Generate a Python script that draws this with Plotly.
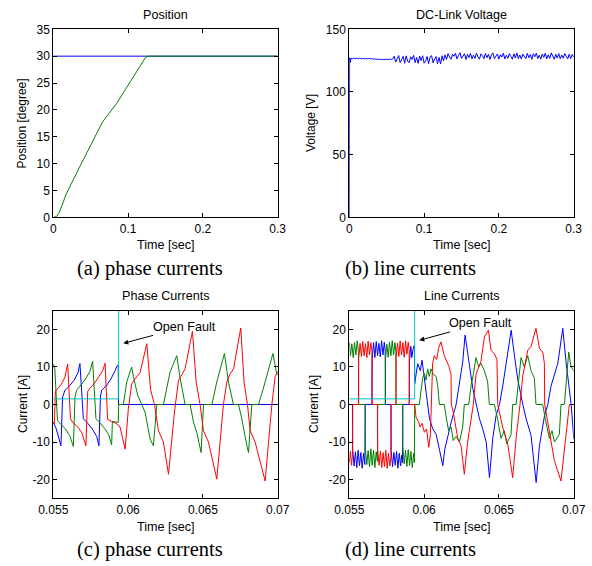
import numpy as np
import plotly.graph_objects as go

# ---------------- data ----------------
# Position response [degree]
pos_ref_t = [0.0, 0.3]
pos_ref_v = [30.0, 30.0]
pos_t = [0.0, 0.004, 0.008, 0.0178, 0.040, 0.0624, 0.066, 0.0847, 0.107, 0.118, 0.1235, 0.127, 0.3]
pos_v = [0.0, 0.1, 0.9, 4.5, 10.7, 16.9, 17.8, 21.2, 26.2, 28.7, 29.8, 30.0, 30.0]

# DC-link voltage [V]: start-up, then samples every ~2 ms up to 0.3 s
dc_start_t = [0.0, 0.0004, 0.0012]
dc_start_v = [0.0, 127.4, 123.6]
dc_v = [
    126.9, 126.3, 127.1, 126.5, 126.9, 126.4, 127.0, 126.5, 126.8, 126.3,
    126.9, 126.4, 126.8, 126.2, 126.7, 126.1, 126.5, 125.9, 126.3, 125.8,
    126.2, 125.7, 126.1, 125.8, 126.2, 125.7, 126.3, 125.9, 126.4,
    128.6, 123.9, 127.2, 129.1, 123.5, 125.8, 128.4, 122.9, 128.8, 124.6,
    123.2, 128.1, 126.0, 129.2, 123.4, 127.5, 122.8, 128.6, 125.1, 128.9,
    123.0, 124.8, 128.3, 122.6, 127.9, 129.0, 123.3, 126.4, 128.2, 122.4,
    127.6, 122.3, 128.9, 124.8, 129.6, 126.0, 130.6, 127.9, 126.1, 130.2,
    128.4, 130.9, 126.3, 129.1, 131.3, 126.7, 128.2, 130.5, 125.9, 130.0,
    127.5, 130.8, 126.4, 129.4, 126.8, 131.0, 128.0, 126.2, 130.4, 129.0,
    126.6, 130.7, 127.3, 130.1, 126.0, 129.6, 131.2, 126.5, 128.6, 130.3,
    126.2, 129.8, 127.8, 130.9, 126.4, 129.2, 126.9, 130.6, 128.3, 126.1,
    130.4, 127.1, 131.1, 126.6, 129.5, 126.3, 130.2, 128.7, 126.5, 130.8,
    127.4, 129.9, 126.0, 130.5, 128.1, 131.0, 126.7, 129.3, 126.2, 130.3,
    127.6, 130.9, 126.4, 129.7, 126.8, 131.2, 128.2, 126.1, 130.1, 127.0,
    130.6, 126.5, 129.4, 126.9, 130.7, 128.5, 126.3, 130.2, 126.6, 129.9,
    127.8,
]

# Phase currents [A] (time [s], current)
ph_red = [
    (0.05500, -4.7), (0.05507, -5.2), (0.05514, 3.5), (0.05530, 4.2), (0.05555, 5.5),
    (0.05578, 7.3), (0.05596, 10.8), (0.05615, -3.8), (0.05632, -4.9), (0.05660, -5.8),
    (0.05690, -7.5), (0.05718, -11.0), (0.05730, 3.5), (0.05745, 4.3), (0.05775, 5.6),
    (0.05805, 7.5), (0.05830, 9.0), (0.05846, 11.0), (0.05863, -4.0), (0.05890, -4.5),
    (0.05920, -5.0), (0.05946, -6.0), (0.05980, -11.9), (0.06002, -1.0), (0.06024, 5.5),
    (0.06050, 7.0), (0.06080, 8.5), (0.06125, 16.2), (0.06150, 4.0), (0.06176, 0.0),
    (0.06203, -7.0), (0.06236, -10.0), (0.06270, -18.6), (0.06310, -2.0), (0.06337, 6.5),
    (0.06360, 8.0), (0.06381, 9.5), (0.06430, 19.5), (0.06455, 6.0), (0.06481, 0.0),
    (0.06504, -7.0), (0.06537, -10.0), (0.06593, -19.9), (0.06637, 0.0), (0.06660, 6.0),
    (0.06680, 8.0), (0.06705, 9.5), (0.06753, 20.4), (0.06775, 6.0), (0.06798, 0.0),
    (0.06816, -7.0), (0.06849, -10.0), (0.06916, -20.4), (0.06961, 0.0), (0.06983, 7.5),
    (0.07012, 9.5),
]
ph_blue = [
    (0.05500, -4.7), (0.05520, -6.5), (0.05551, -11.0), (0.05562, 2.0), (0.05578, 3.8),
    (0.05605, 4.8), (0.05640, 6.5), (0.05665, 8.5), (0.05678, 10.9), (0.05701, -3.8),
    (0.05730, -5.0), (0.05760, -6.5), (0.05790, -8.5), (0.05805, -11.0), (0.05815, 2.0),
    (0.05823, 3.8), (0.05855, 5.0), (0.05885, 6.8), (0.05910, 8.8), (0.05928, 10.4),
    (0.05934, 10.4), (0.05936, 0.0), (0.07010, 0.0),
]
ph_green = [
    (0.05500, 10.8), (0.05510, 9.5), (0.05528, -4.3), (0.05550, -5.2), (0.05580, -6.5),
    (0.05610, -8.3), (0.05634, -11.2), (0.05645, 2.0), (0.05656, 3.8), (0.05685, 5.2),
    (0.05715, 6.8), (0.05745, 8.8), (0.05763, 11.5), (0.05785, -3.8), (0.05815, -5.0),
    (0.05845, -6.5), (0.05870, -8.0), (0.05890, -10.8), (0.05895, -4.5), (0.05934, -4.8),
    (0.05937, 0.0), (0.05968, 0.0), (0.05991, 6.0), (0.06013, 8.7), (0.06024, 10.0),
    (0.06035, 7.5), (0.06047, 5.5), (0.06064, 2.5), (0.06091, 0.0), (0.06113, -2.0),
    (0.06147, -9.2), (0.06169, -11.0), (0.06192, 0.0), (0.06236, 0.0), (0.06281, 8.7),
    (0.06325, 13.0), (0.06348, 7.0), (0.06381, 0.0), (0.06415, 0.0), (0.06437, -4.7),
    (0.06459, -7.5), (0.06488, -12.8), (0.06504, 0.0), (0.06560, 0.0), (0.06593, 6.0),
    (0.06644, 13.6), (0.06671, 6.0), (0.06704, 0.0), (0.06738, 0.0), (0.06760, -3.8),
    (0.06794, -11.0), (0.06805, -12.8), (0.06827, 0.0), (0.06872, 0.0), (0.06916, 6.0),
    (0.06968, 13.6), (0.06994, 8.0), (0.07010, 8.0),
]

# Line currents [A] (time [s], current)
ln_blue = [
    (0.05500, 0.0), (0.05521, 0.0), (0.05523, -12.0), (0.05532, -16.4), (0.05541, -12.6),
    (0.05550, -16.8), (0.05559, -12.2), (0.05568, -16.3), (0.05577, -12.8), (0.05586, -17.0),
    (0.05595, -13.0), (0.05604, -16.0), (0.05606, 0.0), (0.05651, 0.0), (0.05653, 12.0),
    (0.05662, 16.5), (0.05671, 12.5), (0.05680, 16.8), (0.05689, 13.0), (0.05698, 16.3),
    (0.05707, 12.7), (0.05716, 17.0), (0.05725, 13.2), (0.05734, 16.6), (0.05740, 14.2),
    (0.05742, 0.0), (0.05778, 0.0), (0.05780, -12.2), (0.05789, -16.6), (0.05798, -12.8),
    (0.05807, -16.2), (0.05816, -12.5), (0.05825, -17.0), (0.05834, -13.0), (0.05843, -16.4),
    (0.05850, -13.5), (0.05856, -15.5), (0.05858, 0.0), (0.05900, 0.0), (0.05902, 11.5),
    (0.05911, 15.5), (0.05918, 12.5), (0.05927, 15.0), (0.05935, 15.8), (0.05937, 5.5),
    (0.05957, 10.9), (0.05975, 9.0), (0.05986, 11.8), (0.05997, 8.5), (0.06013, 3.3),
    (0.06028, 0.0), (0.06036, -3.8), (0.06058, -6.5), (0.06080, -7.9), (0.06102, -11.9),
    (0.06125, -16.3), (0.06138, -12.0), (0.06158, -8.5), (0.06181, -4.7), (0.06214, 0.0),
    (0.06236, 6.0), (0.06258, 11.3), (0.06274, 18.5), (0.06292, 13.0), (0.06303, 10.5),
    (0.06326, 4.2), (0.06348, 0.0), (0.06370, -3.8), (0.06392, -6.5), (0.06415, -10.0),
    (0.06437, -19.5), (0.06459, -9.0), (0.06481, -3.0), (0.06504, 0.0), (0.06526, 5.0),
    (0.06548, 10.5), (0.06582, 19.8), (0.06604, 13.0), (0.06626, 6.7), (0.06660, 0.0),
    (0.06682, -3.8), (0.06715, -8.3), (0.06749, -20.8), (0.06771, -11.0), (0.06805, -3.0),
    (0.06827, 0.0), (0.06849, 5.0), (0.06894, 11.0), (0.06927, 20.3), (0.06949, 11.3),
    (0.06983, 0.0), (0.07001, -9.2), (0.07010, -9.5),
]
ln_green = [
    (0.05500, 16.5), (0.05508, 13.0), (0.05517, 16.2), (0.05526, 12.5), (0.05535, 16.6),
    (0.05544, 13.2), (0.05553, 17.0), (0.05561, 14.0), (0.05563, 0.0), (0.05606, 0.0),
    (0.05608, -12.0), (0.05617, -16.0), (0.05626, -12.3), (0.05635, -16.6), (0.05644, -11.8),
    (0.05653, -16.2), (0.05662, -12.2), (0.05671, -16.8), (0.05680, -12.6), (0.05688, -15.2),
    (0.05690, 0.0), (0.05740, 0.0), (0.05742, 12.0), (0.05751, 16.1), (0.05760, 12.6),
    (0.05769, 16.6), (0.05778, 13.0), (0.05787, 17.0), (0.05796, 13.2), (0.05805, 16.5),
    (0.05811, 14.2), (0.05813, 0.0), (0.05856, 0.0), (0.05858, -11.5), (0.05867, -15.8),
    (0.05876, -12.2), (0.05885, -16.5), (0.05894, -12.0), (0.05903, -16.2), (0.05912, -12.5),
    (0.05921, -16.8), (0.05930, -13.0), (0.05935, -15.5), (0.05937, 0.0), (0.05968, 0.0),
    (0.05979, 3.8), (0.05990, 7.0), (0.06002, 8.2), (0.06013, 6.5), (0.06024, 9.5),
    (0.06035, 7.5), (0.06046, 9.5), (0.06062, 8.0), (0.06080, 7.5), (0.06091, 5.0),
    (0.06102, 0.0), (0.06135, 0.0), (0.06146, -3.0), (0.06164, -7.0), (0.06180, -6.0),
    (0.06195, -9.6), (0.06213, -8.5), (0.06236, -10.0), (0.06258, -6.0), (0.06269, 0.0),
    (0.06298, 0.0), (0.06314, 5.0), (0.06329, 8.0), (0.06347, 12.5), (0.06365, 10.0),
    (0.06380, 11.0), (0.06403, 9.0), (0.06425, 6.0), (0.06436, 0.0), (0.06470, 0.0),
    (0.06492, -4.0), (0.06514, -9.0), (0.06536, -7.0), (0.06552, -10.5), (0.06581, -8.0),
    (0.06592, 0.0), (0.06615, 0.0), (0.06632, 6.0), (0.06648, 12.5), (0.06670, 10.0),
    (0.06693, 13.0), (0.06715, 9.0), (0.06737, 7.0), (0.06748, 0.0), (0.06793, 0.0),
    (0.06811, -4.0), (0.06837, -9.0), (0.06855, -7.0), (0.06871, -10.0), (0.06904, -8.0),
    (0.06915, 0.0), (0.06938, 0.0), (0.06953, 7.0), (0.06967, 14.0), (0.06982, 10.0),
    (0.07010, 8.5),
]
ln_red = [
    (0.05500, -15.5), (0.05507, -12.5), (0.05515, -16.2), (0.05521, -13.5), (0.05523, 0.0),
    (0.05561, 0.0), (0.05563, 12.2), (0.05572, 16.3), (0.05581, 12.8), (0.05590, 16.8),
    (0.05599, 13.0), (0.05608, 16.2), (0.05617, 12.5), (0.05626, 16.9), (0.05635, 13.2),
    (0.05644, 16.5), (0.05651, 14.5), (0.05653, 0.0), (0.05688, 0.0), (0.05690, -12.0),
    (0.05699, -16.2), (0.05708, -12.4), (0.05717, -16.8), (0.05726, -12.8), (0.05735, -16.5),
    (0.05744, -12.2), (0.05753, -17.0), (0.05762, -13.0), (0.05771, -16.4), (0.05778, -14.0),
    (0.05780, 0.0), (0.05811, 0.0), (0.05813, 12.5), (0.05822, 16.4), (0.05831, 12.8),
    (0.05840, 16.9), (0.05849, 13.2), (0.05858, 16.5), (0.05867, 12.6), (0.05876, 17.0),
    (0.05885, 13.4), (0.05894, 16.6), (0.05900, 14.5), (0.05902, 0.0), (0.05937, 0.0),
    (0.05946, -3.4), (0.05964, -4.7), (0.05973, -6.0), (0.05986, -5.0), (0.06002, -7.4),
    (0.06017, -6.5), (0.06031, -11.4), (0.06042, -8.0), (0.06046, -2.0), (0.06057, 11.0),
    (0.06068, 13.0), (0.06084, 12.0), (0.06097, 15.0), (0.06113, 16.7), (0.06135, 13.0),
    (0.06151, 11.5), (0.06164, 10.4), (0.06180, 8.0), (0.06182, 0.0), (0.06195, -2.0),
    (0.06213, -6.5), (0.06224, -8.8), (0.06247, -11.0), (0.06269, -18.6), (0.06291, -10.0),
    (0.06314, -4.0), (0.06329, 0.0), (0.06347, 8.0), (0.06380, 11.5), (0.06403, 18.0),
    (0.06430, 19.8), (0.06447, 14.5), (0.06470, 13.5), (0.06487, 12.0), (0.06492, 0.0),
    (0.06525, -6.0), (0.06559, -10.5), (0.06592, -19.5), (0.06615, -9.0), (0.06641, 0.0),
    (0.06659, 7.5), (0.06693, 14.5), (0.06715, 15.5), (0.06748, 20.3), (0.06771, 15.0),
    (0.06793, 14.0), (0.06804, 11.0), (0.06806, 0.0), (0.06837, -7.0), (0.06871, -15.0),
    (0.06915, -20.4), (0.06938, -12.0), (0.06971, 0.0), (0.07011, 0.0),
]

# Fault flag (drawn off-scale after the open fault)
fault_t = [0.05500, 0.05937, 0.05937, 0.07010]
fault_v = [1.5, 1.5, 40.0, 40.0]

# Tick labels
pos_x_ticks = [0.0, 0.1, 0.2, 0.3]
pos_x_text = ["0", "0.1", "0.2", "0.3"]
pos_y_ticks = [0, 5, 10, 15, 20, 25, 30, 35]
dc_y_ticks = [0, 50, 100, 150]
cur_x_ticks = [0.055, 0.06, 0.065, 0.07]
cur_x_text = ["0.055", "0.06", "0.065", "0.07"]
cur_y_ticks = [-20, -10, 0, 10, 20]

# ---------------- styling ----------------
W, H = 592, 566
BLUE, GREEN, RED, CYAN = "#0000FF", "#008000", "#FF0000", "#00BFBF"
SANS = "Liberation Sans, Arial, sans-serif"
SERIF = "Liberation Serif, Times New Roman, serif"


def px_x(x):
    return x / W


def px_y(y):
    return 1 - y / H


def unzip(pairs):
    t, v = zip(*pairs)
    return list(t), list(v)


dc_t = list(np.linspace(0.002, 0.300, len(dc_v)))

fig = go.Figure()


def line(x, y, color, ax):
    fig.add_trace(go.Scatter(x=x, y=y, mode="lines", line=dict(color=color, width=1),
                             xaxis="x" + ax, yaxis="y" + ax, showlegend=False,
                             hoverinfo="skip"))


line(pos_ref_t, pos_ref_v, BLUE, "")
line(pos_t, pos_v, GREEN, "")
line(dc_start_t + dc_t, dc_start_v + dc_v, BLUE, "2")
for pairs, col in ((ph_blue, BLUE), (ph_green, GREEN), (ph_red, RED)):
    line(*unzip(pairs), col, "3")
line(fault_t, fault_v, CYAN, "3")
for pairs, col in ((ln_blue, BLUE), (ln_green, GREEN), (ln_red, RED)):
    line(*unzip(pairs), col, "4")
line(fault_t, fault_v, CYAN, "4")

# plot areas in pixels: left, right, top, bottom
boxes = {
    "": (53.3, 277.7, 29.3, 217.3),
    "2": (349.3, 573.7, 29.3, 217.3),
    "3": (53.3, 277.7, 310.7, 498.3),
    "4": (349.3, 573.7, 310.7, 498.3),
}


def axis(domain, rng, tv, tt, anchor):
    return dict(domain=domain, range=rng, tickvals=tv, ticktext=tt, anchor=anchor,
                ticks="inside", ticklen=4, tickwidth=1, tickcolor="#000",
                showline=True, linecolor="#000", linewidth=1, mirror="ticks",
                showgrid=False, zeroline=False, automargin=False, fixedrange=True,
                tickfont=dict(family=SANS, size=12, color="#000"))


specs = {
    "": ([0, 0.3], pos_x_ticks, pos_x_text, [0, 35], pos_y_ticks, [str(v) for v in pos_y_ticks]),
    "2": ([0, 0.3], pos_x_ticks, pos_x_text, [0, 150], dc_y_ticks, [str(v) for v in dc_y_ticks]),
    "3": ([0.055, 0.07], cur_x_ticks, cur_x_text, [-25, 25], cur_y_ticks, [str(v) for v in cur_y_ticks]),
    "4": ([0.055, 0.07], cur_x_ticks, cur_x_text, [-25, 25], cur_y_ticks, [str(v) for v in cur_y_ticks]),
}

layout = dict(width=W, height=H, margin=dict(l=0, r=0, t=0, b=0),
              paper_bgcolor="white", plot_bgcolor="white", showlegend=False)
for k, (l, r, t, b) in boxes.items():
    xr, xtv, xtt, yr, ytv, ytt = specs[k]
    layout["xaxis" + k] = axis([px_x(l), px_x(r)], xr, xtv, xtt, "y" + k)
    layout["yaxis" + k] = axis([px_y(b), px_y(t)], yr, ytv, ytt, "x" + k)
fig.update_layout(**layout)

ann = []


def text(s, x, y, size=12, font=SANS, angle=0):
    ann.append(dict(text=s, x=px_x(x), y=px_y(y), xref="paper", yref="paper",
                    xanchor="center", yanchor="middle", showarrow=False, textangle=angle,
                    font=dict(family=font, size=size, color="#000")))


# panel titles
text("Position", 165.5, 15, size=12.6)
text("DC-Link Voltage", 461.5, 15, size=12.6)
text("Phase Currents", 165.5, 296, size=12.6)
text("Line Currents", 461.5, 296, size=12.6)
# x-axis titles
for xc in (165.5, 461.5):
    text("Time [sec]", xc, 245, size=12.6)
    text("Time [sec]", xc, 527, size=12.6)
# y-axis titles
text("Position [degree]", 21.5, 123, angle=-90)
text("Voltage [V]", 311, 123, angle=-90)
text("Current [A]", 23, 404, angle=-90)
text("Current [A]", 314, 404, angle=-90)
# captions
text("(a) phase currents", 150, 268, size=20.5, font=SERIF)
text("(b) line currents", 410, 268, size=20.5, font=SERIF)
text("(c) phase currents", 150, 549, size=20.5, font=SERIF)
text("(d) line currents", 410, 549, size=20.5, font=SERIF)

# fault markers
for ax, ty, hy in (("3", 20.7, 16.3), ("4", 21.6, 17.1)):
    ann.append(dict(text="Open Fault", x=0.05968, y=hy, ax=0.0638, ay=ty,
                    xref="x" + ax, yref="y" + ax, axref="x" + ax, ayref="y" + ax,
                    showarrow=True, arrowhead=2, arrowsize=1, arrowwidth=1,
                    arrowcolor="#000", font=dict(family=SANS, size=12.6, color="#000")))

fig.update_layout(annotations=ann)
fig.write_html("out.html")
